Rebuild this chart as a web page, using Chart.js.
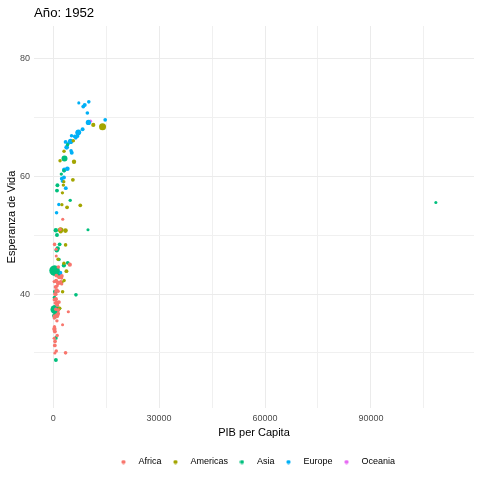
<!DOCTYPE html>
<html>
<head>
<meta charset="utf-8">
<title>Año: 1952</title>
<script src="https://cdn.jsdelivr.net/npm/chart.js@4.4.1/dist/chart.umd.min.js"></script>
<style>
  html, body { margin: 0; padding: 0; background: #fff; }
  #wrap { width: 480px; height: 480px; }
</style>
</head>
<body>
<div id="wrap"><canvas id="grafico" width="480" height="480"></canvas></div>
<script>
// Gapminder 1952: PIB per capita, esperanza de vida y poblacion por continente
const continentes = ['Africa', 'Americas', 'Asia', 'Europe', 'Oceania'];
const colores = ['#F8766D', '#A3A500', '#00BF7D', '#00B0F6', '#E76BF3'];

const africaPib = [2449.0, 3520.6, 1062.8, 851.2, 543.3, 339.3, 1172.7, 1071.3, 1178.7, 1103.0,
  780.5, 2125.6, 1388.6, 2669.5, 1418.8, 375.6, 328.9, 362.1, 4293.5, 485.2,
  911.3, 510.2, 299.9, 853.5, 298.8, 575.6, 2387.5, 1443.0, 369.2, 452.3,
  743.1, 1968.0, 1688.2, 468.5, 2423.8, 761.9, 1077.3, 2718.9, 493.3, 879.6,
  1450.4, 879.8, 1135.7, 4725.3, 1616.0, 1148.4, 716.7, 859.8, 1468.5, 734.8,
  1147.4, 406.9];
const africaVida = [43.08, 30.02, 38.22, 47.62, 31.98, 39.03, 38.52, 35.46, 38.09, 40.72,
  39.14, 42.11, 40.48, 34.81, 41.89, 34.48, 35.93, 34.08, 37.00, 30.00,
  43.15, 33.61, 32.50, 42.27, 42.14, 38.48, 42.72, 36.68, 36.26, 33.69,
  40.54, 50.99, 42.87, 31.29, 41.73, 37.44, 36.32, 52.72, 40.00, 46.47,
  37.28, 30.33, 32.98, 45.01, 38.64, 41.41, 41.22, 38.60, 44.60, 39.98,
  42.04, 48.45];
const africaPob = [9279525, 4232095, 1738315, 442308, 4469979, 2445618, 5009067, 1291695, 2682462, 153936,
  14100005, 854885, 2977019, 63149, 22223309, 216964, 1438760, 20860941, 420702, 284320,
  5581001, 2664249, 580653, 6464046, 748747, 863308, 1019729, 4762912, 2917802, 3838168,
  1022556, 516556, 9939217, 6446316, 485831, 3379468, 33119096, 257700, 2534927, 60011,
  2755589, 2143249, 2526994, 14264935, 8504667, 290243, 8322925, 1219113, 3647735, 5824797,
  2672000, 3080907];

const americasPib = [5911.3, 2677.3, 2108.9, 11367.2, 3940.0, 2144.1, 2627.0, 5586.5, 1397.7, 3522.1,
  3048.3, 2428.2, 1840.4, 2194.9, 2898.5, 3478.1, 3112.4, 2480.4, 1952.3, 3758.5,
  3082.0, 3023.3, 13990.5, 5716.8, 7689.8];
const americasVida = [62.49, 40.41, 50.92, 68.75, 54.75, 50.64, 57.21, 59.42, 45.93, 48.36,
  45.26, 42.02, 37.58, 41.91, 58.53, 50.79, 42.31, 55.19, 62.65, 43.90,
  64.28, 59.10, 68.44, 66.07, 55.09];
const americasPob = [17876956, 2883315, 56602560, 14785584, 6377619, 12350771, 926317, 6007797, 2491346, 3548753,
  2042865, 3146381, 3201488, 1517453, 1426095, 30144317, 1165790, 940080, 1555876, 8025700,
  2227000, 662850, 157553000, 2252965, 5439568];

const asiaPib = [779.4, 9867.1, 684.2, 368.5, 400.4, 3054.4, 546.6, 749.7, 3035.3, 4129.8,
  4086.5, 3217.0, 1546.9, 1088.3, 1030.6, 108382.4, 4834.8, 1831.1, 786.6, 331.0,
  545.9, 1828.2, 684.6, 1272.9, 6459.6, 2315.1, 1083.5, 1643.5, 1206.9, 757.8,
  605.1, 1515.6, 781.7];
const asiaVida = [28.80, 50.94, 37.48, 39.42, 44.00, 60.96, 37.37, 37.47, 44.87, 45.32,
  65.39, 63.03, 43.16, 50.06, 47.45, 55.57, 55.93, 48.46, 42.24, 36.32,
  36.16, 37.58, 43.44, 47.75, 39.88, 60.40, 57.59, 45.88, 58.50, 50.85,
  40.41, 43.16, 32.55];
const asiaPob = [8425333, 120447, 46886859, 4693836, 556263527, 2125900, 372000000, 82052000, 17272000, 5441766,
  1620914, 86459025, 607914, 8865488, 20947571, 160000, 1439529, 6748378, 800663, 20092996,
  9182536, 507833, 41346560, 22438691, 4005677, 1127000, 7982342, 3661549, 8550362, 21289402,
  26246839, 1030585, 4963829];

const europePib = [1601.1, 6137.1, 8343.1, 973.5, 2444.3, 3119.2, 6876.1, 9692.4, 6424.5, 7029.8,
  7144.1, 3530.7, 5263.7, 7267.7, 5210.3, 4931.4, 2647.6, 8941.6, 10095.4, 4029.3,
  3068.3, 3144.6, 3581.5, 5074.7, 4215.0, 3834.0, 8527.8, 14734.2, 1969.1, 9979.5];
const europeVida = [55.23, 66.80, 68.00, 53.82, 59.60, 61.21, 66.87, 70.78, 66.55, 67.41,
  67.50, 65.86, 64.03, 72.49, 66.91, 65.94, 59.16, 72.13, 72.67, 61.31,
  59.82, 61.05, 58.00, 64.36, 65.57, 64.94, 71.86, 69.62, 43.59, 69.18];
const europePob = [1282697, 6927772, 8730405, 2791000, 7274900, 3882229, 9125183, 4334000, 4090500, 42459667,
  69145952, 7733250, 9504000, 147962, 2952156, 47666000, 413834, 10381988, 3327728, 25730551,
  8526050, 16630000, 6860147, 3558137, 1489518, 28549870, 7124673, 4815000, 22235677, 50430000];

const oceaniaPib = [10039.6, 10556.6];
const oceaniaVida = [69.12, 69.39];
const oceaniaPob = [8691212, 1994794];

// ticks: lineas de la grilla y cuales llevan etiqueta
const xTicks = [0, 15000, 30000, 45000, 60000, 75000, 90000, 105000];
const xEtiquetas = [0, 30000, 60000, 90000];
const yTicks = [30, 40, 50, 60, 70, 80];
const yEtiquetas = [40, 60, 80];

// limites fijos de toda la animacion (1952-2007)
const xMin = -5422, xMax = 119186;
const yMin = 20.65, yMax = 85.55;
const pobMin = 60011, pobMax = 1318683096;

const pibs = [africaPib, americasPib, asiaPib, europePib, oceaniaPib];
const vidas = [africaVida, americasVida, asiaVida, europeVida, oceaniaVida];
const pobs = [africaPob, americasPob, asiaPob, europePob, oceaniaPob];

function radio(pob) {
    // escala de area como scale_size de ggplot
    return 1.5 + 5.8 * Math.sqrt((pob - pobMin) / (pobMax - pobMin));
}

// puntito de la leyenda (canvas pequeño para poder separar el texto)
function puntoLeyenda(color) {
    const c = document.createElement('canvas');
    c.width = 5; c.height = 5;
    const g = c.getContext('2d');
    g.fillStyle = color;
    g.beginPath();
    g.arc(2.5, 2.5, 2.1, 0, Math.PI * 2);
    g.fill();
    return c;
}
const puntos = colores.map(puntoLeyenda);

const datasets = continentes.map(function(c, i) {
    return {
        label: c,
        data: pibs[i].map(function(v, j) { return { x: v, y: vidas[i][j] }; }),
        backgroundColor: colores[i],
        borderColor: colores[i],
        borderWidth: 0,
        pointRadius: pobs[i].map(radio),
        pointStyle: 'circle'
    };
});

const fuente = "'Liberation Sans', Arial, sans-serif";

function colorGrilla(ctx, etiquetas) {
    return (ctx.tick && etiquetas.indexOf(ctx.tick.value) >= 0) ? '#EBEBEB' : '#F0F0F0';
}

new Chart(document.getElementById('grafico'), {
    type: 'scatter',
    data: { datasets: datasets },
    options: {
        responsive: false,
        animation: false,
        events: [],
        layout: { padding: { left: 0, right: 6, top: 0, bottom: 3.5 } },
        plugins: {
            tooltip: { enabled: false },
            title: {
                display: true,
                text: 'Año: 1952',
                align: 'start',
                fullSize: false,
                color: '#000',
                font: { family: fuente, size: 13.2, weight: 'normal' },
                padding: { top: 5.5, bottom: 4.7 }
            },
            legend: {
                position: 'bottom',
                fullSize: false,
                labels: {
                    usePointStyle: true,
                    pointStyleWidth: 21,
                    boxHeight: 5,
                    padding: 3.5,
                    color: '#000',
                    font: { family: fuente, size: 9 },
                    generateLabels: function(chart) {
                        const items = Chart.defaults.plugins.legend.labels.generateLabels(chart);
                        items.forEach(function(it, i) { it.pointStyle = puntos[i]; });
                        return items;
                    }
                }
            }
        },
        scales: {
            x: {
                type: 'linear',
                min: xMin,
                max: xMax,
                afterBuildTicks: function(scale) {
                    scale.ticks = xTicks.map(function(v) { return { value: v }; });
                },
                afterFit: function(scale) { scale.height = 46; },
                border: { display: false },
                grid: {
                    drawTicks: false,
                    color: function(ctx) { return colorGrilla(ctx, xEtiquetas); },
                    lineWidth: 1
                },
                ticks: {
                    autoSkip: false,
                    maxRotation: 0,
                    padding: 5,
                    color: '#4D4D4D',
                    font: { family: fuente, size: 9 },
                    callback: function(v) { return xEtiquetas.indexOf(v) >= 0 ? String(v) : ''; }
                },
                title: {
                    display: true,
                    text: 'PIB per Capita',
                    color: '#000',
                    font: { family: fuente, size: 11 },
                    padding: { top: 0, bottom: 14.4 }
                }
            },
            y: {
                type: 'linear',
                min: yMin,
                max: yMax,
                afterBuildTicks: function(scale) {
                    scale.ticks = yTicks.map(function(v) { return { value: v }; });
                },
                afterFit: function(scale) { scale.width = 34; },
                border: { display: false },
                grid: {
                    drawTicks: false,
                    color: function(ctx) { return colorGrilla(ctx, yEtiquetas); },
                    lineWidth: 1
                },
                ticks: {
                    autoSkip: false,
                    padding: 4,
                    color: '#4D4D4D',
                    font: { family: fuente, size: 9 },
                    callback: function(v) { return yEtiquetas.indexOf(v) >= 0 ? String(v) : ''; }
                },
                title: {
                    display: true,
                    text: 'Esperanza de Vida',
                    color: '#000',
                    font: { family: fuente, size: 11 },
                    padding: { top: 5.4, bottom: 0 }
                }
            }
        }
    }
});
</script>
</body>
</html>
